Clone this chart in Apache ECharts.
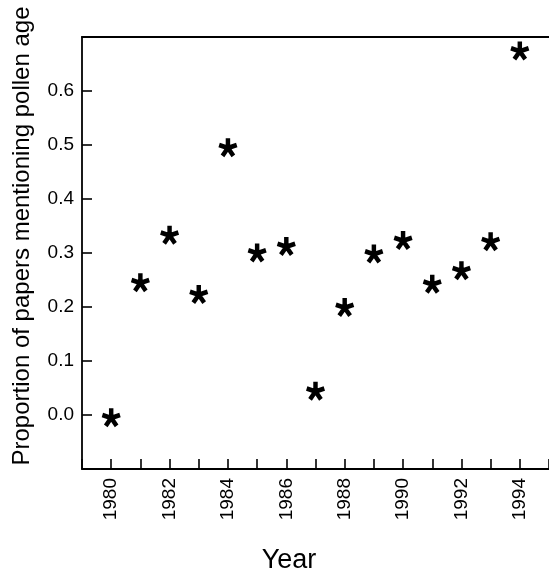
<!DOCTYPE html>
<html><head><meta charset="utf-8">
<script src="https://cdn.jsdelivr.net/npm/echarts@6/dist/echarts.min.js"></script>
<style>html,body{margin:0;padding:0;background:#fff}#c{width:549px;height:575px}</style>
</head><body><div id="c"></div>
<script>
const years = [1980,1981,1982,1983,1984,1985,1986,1987,1988,1989,1990,1991,1992,1993,1994];
const proportions = [-0.005,0.245,0.333,0.223,0.495,0.300,0.312,0.044,0.199,0.298,0.323,0.242,0.267,0.321,0.674];
const yTickLabels = ['0.0','0.1','0.2','0.3','0.4','0.5','0.6'];
const xTickLabels = [1980,1982,1984,1986,1988,1990,1992,1994];
const yTitle = 'Proportion of papers mentioning pollen age';
const xTitle = 'Year';

function starPath(){
  const r = 10, w = 2.4, n = 5;
  let d = '';
  for (let i = 0; i < n; i++) {
    const a = (-90 + i * 72) * Math.PI / 180;
    const ux = Math.cos(a), uy = Math.sin(a), px = -uy, py = ux;
    const pts = [[px*w, py*w],[ux*r+px*w, uy*r+py*w],[ux*r-px*w, uy*r-py*w],[-px*w, -py*w]];
    d += 'M' + pts.map(p => (p[0]+r).toFixed(2)+' '+(p[1]+r).toFixed(2)).join(' L') + ' Z ';
  }
  return 'path://' + d;
}

const FONT = 'Liberation Sans, Arial, Helvetica, sans-serif';
const lineStyle = {color: '#000', width: 1.8};
const tickStyle = {color: '#000', width: 1.6};
const chart = echarts.init(document.getElementById('c'), null, {renderer:'canvas'});
chart.setOption({
  animation: false,
  backgroundColor: '#fff',
  grid: {left: 82, right: -3, top: 37, bottom: 106},
  xAxis: [{
    type: 'value', min: 1979, max: 1995, interval: 1, position: 'bottom',
    axisLine: {show: true, onZero: false, lineStyle: lineStyle},
    axisTick: {show: true, inside: true, length: 10, lineStyle: tickStyle},
    splitLine: {show: false},
    axisLabel: {
      rotate: 90, margin: 9, color: '#000', fontSize: 19, fontFamily: FONT,
      formatter: v => xTickLabels.indexOf(Math.round(v)) >= 0 ? String(Math.round(v)) : ''
    }
  }, {
    type: 'value', min: 1979, max: 1995, position: 'top',
    axisLine: {show: true, onZero: false, lineStyle: lineStyle},
    axisTick: {show: false}, axisLabel: {show: false}, splitLine: {show: false}
  }],
  yAxis: {
    type: 'value', min: -0.1, max: 0.7, interval: 0.1, position: 'left',
    axisLine: {show: true, onZero: false, lineStyle: lineStyle},
    axisTick: {show: true, inside: true, length: 10, lineStyle: tickStyle},
    splitLine: {show: false},
    axisLabel: {
      margin: 8, color: '#000', fontSize: 19, fontFamily: FONT,
      formatter: v => { const s = (Math.round(v*10)/10).toFixed(1); return yTickLabels.indexOf(s) >= 0 ? s : ''; }
    }
  },
  graphic: [
    {type: 'text', x: 22, y: 236, rotation: Math.PI/2,
     style: {text: yTitle, font: '24px ' + FONT, fill: '#000', align: 'center', verticalAlign: 'middle'}},
    {type: 'text', x: 289, y: 561,
     style: {text: xTitle, font: '27px ' + FONT, fill: '#000', align: 'center', verticalAlign: 'middle'}}
  ],
  series: [{
    type: 'scatter',
    symbol: starPath(),
    symbolSize: 19,
    itemStyle: {color: '#000', opacity: 1},
    data: years.map((y, i) => [y, proportions[i]])
  }]
});
</script></body></html>
